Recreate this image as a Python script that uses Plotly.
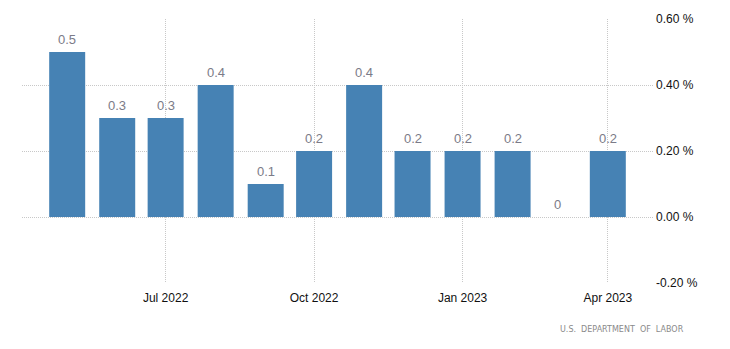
import plotly.graph_objects as go

months = ["2022-05-01", "2022-06-01", "2022-07-01", "2022-08-01", "2022-09-01", "2022-10-01",
          "2022-11-01", "2022-12-01", "2023-01-01", "2023-02-01", "2023-03-01", "2023-04-01"]
values = [0.5, 0.3, 0.3, 0.4, 0.1, 0.2, 0.4, 0.2, 0.2, 0.2, 0.0, 0.2]
labels = ["0.5", "0.3", "0.3", "0.4", "0.1", "0.2", "0.4", "0.2", "0.2", "0.2", "0", "0.2"]
tick_dates = ["2022-07-01", "2022-10-01", "2023-01-01", "2023-04-01"]
tick_text = ["Jul 2022", "Oct 2022", "Jan 2023", "Apr 2023"]
y_ticks = [-0.2, 0.0, 0.2, 0.4, 0.6]
y_tick_text = ["-0.20 %", "0.00 %", "0.20 %", "0.40 %", "0.60 %"]

fig = go.Figure()
fig.add_trace(go.Bar(
    x=months, y=values, marker_color="#4682B4", marker_line_width=0,
    width=22.3 * 86400000, hoverinfo="skip"
))

for m, v, t in zip(months, values, labels):
    fig.add_annotation(x=m, y=v, text=t, showarrow=False, yanchor="bottom", yshift=3,
                       font=dict(family="Liberation Sans", size=13, color="#7b7b88"))

fig.add_annotation(xref="paper", yref="paper", x=1.052, y=-0.15, xanchor="right", yanchor="top",
                   text="U.S.  DEPARTMENT  OF  LABOR", showarrow=False,
                   font=dict(family="DejaVu Sans", size=8, color="#8a8a8a"))

grid = dict(showgrid=True, gridcolor="#c8c8c8", griddash="1px,1px", gridwidth=1)

fig.update_layout(
    width=730, height=349,
    margin=dict(l=22, r=77, t=19, b=66),
    paper_bgcolor="white", plot_bgcolor="white",
    showlegend=False,
    font=dict(family="Liberation Sans", size=12, color="#111111"),
    xaxis=dict(type="date", range=["2022-04-03", "2023-04-29"],
               tickvals=tick_dates, ticktext=tick_text, ticklabelstandoff=6,
               zeroline=False, showline=False, ticks="", **grid),
    yaxis=dict(range=[-0.2, 0.6], side="right", tickvals=y_ticks, ticktext=y_tick_text,
               ticklabelstandoff=2,
               zeroline=False, showline=False, ticks="", **grid),
)

fig.write_html("out.html")
